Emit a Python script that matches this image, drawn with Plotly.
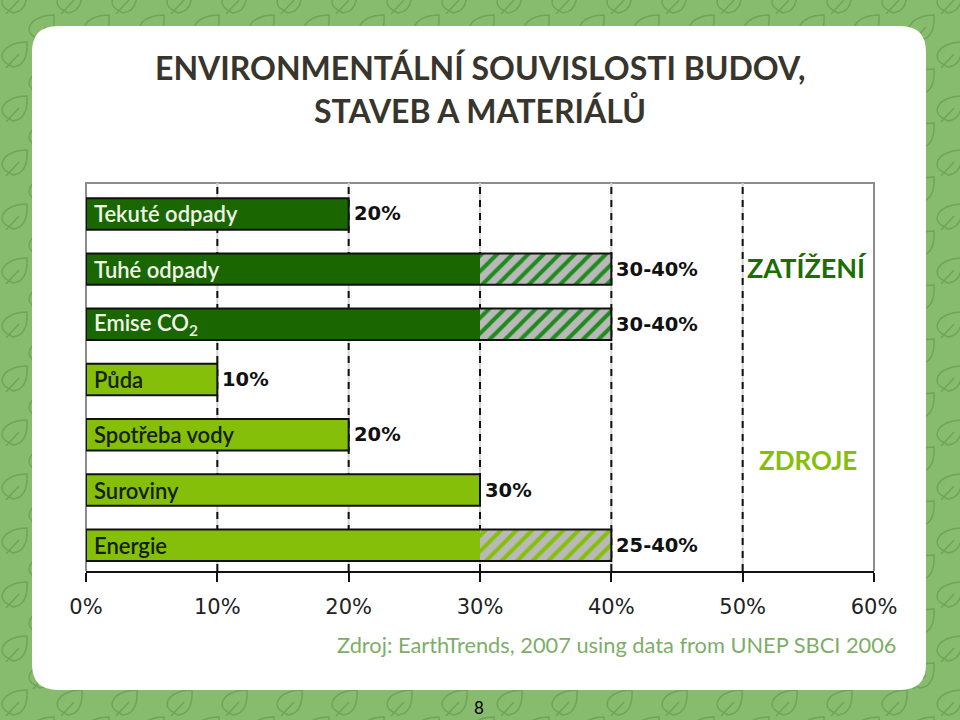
import plotly.graph_objects as go

categories = ["Tekuté odpady", "Tuhé odpady", "Emise CO<sub>2</sub>", "Půda", "Spotřeba vody", "Suroviny", "Energie"]
solid_values = [20, 30, 30, 10, 20, 30, 30]
upper_values = [20, 40, 40, 10, 20, 30, 40]
value_labels = ["20%", "30-40%", "30-40%", "10%", "20%", "30%", "25-40%"]
fill_colors = ["#1a6600"] * 3 + ["#86bf0a"] * 4
hatch_colors = ["#1f8a1f"] * 3 + ["#86bf0a"] * 4
label_colors = ["#eef5e8"] * 3 + ["#14210a"] * 4
tick_values = [0, 10, 20, 30, 40, 50, 60]
tick_labels = ["0%", "10%", "20%", "30%", "40%", "50%", "60%"]
positions = list(range(len(categories)))
W, H = 960, 720
PX0, PX1, PY0, PY1 = 86, 874, 183, 571
GREEN_BG, LEAF = "#87bc6e", "#70a459"


def px(x):
    return x / W


def py(y):
    return 1 - y / H


def P(x, y):
    return f"{px(x):.5f},{py(y):.5f}"


def leaf(cx, cy):
    return (
        f"M{P(cx+12,cy-13)} C{P(cx+2,cy-13)} {P(cx-12,cy-9)} {P(cx-13,cy+1)} "
        f"C{P(cx-13,cy+7)} {P(cx-7,cy+9)} {P(cx-2,cy+12)} "
        f"C{P(cx+7,cy+11)} {P(cx+13,cy+5)} {P(cx+12,cy-13)} Z "
        f"M{P(cx-9,cy+13)} L{P(cx+4,cy-1)} "
    )


leaf_path = ""
for j in range(-1, 15):
    for k in range(-1, 19):
        leaf_path += leaf(15 + 55 * k, 1 + 54 * j)
        leaf_path += leaf(42 + 55 * k, 28 + 54 * j)

r = 26
x0, x1, y0, y1 = 32, 926, 26, 690
card = (
    f"M{P(x0+r,y0)} L{P(x1-r,y0)} Q{P(x1,y0)} {P(x1,y0+r)} L{P(x1,y1-r)} Q{P(x1,y1)} {P(x1-r,y1)} "
    f"L{P(x0+r,y1)} Q{P(x0,y1)} {P(x0,y1-r)} L{P(x0,y0+r)} Q{P(x0,y0)} {P(x0+r,y0)} Z"
)

shapes = [
    dict(type="path", path=leaf_path, xref="paper", yref="paper", line=dict(color=LEAF, width=1.5), layer="below"),
    dict(type="path", path=card, xref="paper", yref="paper", fillcolor="white", line=dict(width=0), layer="below"),
    dict(type="path", xref="paper", yref="paper",
         path=f"M{P(PX0,PY1)} L{P(PX0,PY0)} L{P(PX1,PY0)} L{P(PX1,PY1)}",
         line=dict(color="#8c8c8c", width=2), layer="below"),
]
for t in tick_values[1:-1]:
    shapes.append(dict(type="line", xref="x", yref="paper", x0=t, x1=t, y0=py(PY1), y1=py(PY0),
                       line=dict(color="#d4d4d4", width=2), layer="below"))
    shapes.append(dict(type="line", xref="x", yref="paper", x0=t, x1=t, y0=py(PY1), y1=py(PY0),
                       line=dict(color="#111111", width=2, dash="7px,6px"), layer="below"))

fig = go.Figure()
fig.add_bar(y=positions, x=solid_values, orientation="h", marker=dict(color=fill_colors, line=dict(width=0)),
            width=0.57)
fig.add_bar(y=positions, x=[u - s for u, s in zip(upper_values, solid_values)], base=solid_values, orientation="h",
            width=0.57,
            marker=dict(color="#b9b9b9", line=dict(width=0),
                        pattern=dict(shape="/", bgcolor="#b9b9b9", fgcolor=hatch_colors, size=11, solidity=0.36,
                                     fillmode="replace")))
fig.add_bar(y=positions, x=upper_values, orientation="h", width=0.57,
            marker=dict(color="rgba(0,0,0,0)", line=dict(color="#111111", width=2)))

for pos, cat, col, up, val in zip(positions, categories, label_colors, upper_values, value_labels):
    fig.add_annotation(xref="x", yref="y", x=0, y=pos, text=cat, showarrow=False, xanchor="left", yanchor="middle",
                       xshift=6, font=dict(family="Lato", size=22, color=col, weight=600))
    fig.add_annotation(xref="x", yref="y", x=up, y=pos, text=val, showarrow=False, xanchor="left", yanchor="middle",
                       xshift=3, font=dict(family="DejaVu Sans", size=19.5, color="#111111", weight="bold"))


def note(x, y, text, size, color, bold=False, family="Lato", anchor="center"):
    fig.add_annotation(xref="paper", yref="paper", x=px(x), y=py(y), text=f"<b>{text}</b>" if bold else text,
                       showarrow=False, xanchor=anchor, yanchor="middle",
                       font=dict(family=family, size=size, color=color))


note(480, 67, "ENVIRONMENTÁLNÍ SOUVISLOSTI BUDOV,", 32, "#37352c", True)
note(480, 110, "STAVEB A MATERIÁLŮ", 32, "#37352c", True)
note(807, 267, "ZATÍŽENÍ", 27, "#1a6f00", True)
note(808, 460, "ZDROJE", 26, "#86bf0a", True)
note(617, 644, "Zdroj: EarthTrends, 2007 using data from UNEP SBCI 2006", 21.8, "#7dae68")
note(479, 707, "8", 17, "#000000")

fig.update_layout(
    width=W, height=H, margin=dict(l=0, r=0, t=0, b=0, autoexpand=False), barmode="overlay", showlegend=False,
    paper_bgcolor=GREEN_BG, plot_bgcolor="rgba(0,0,0,0)", shapes=shapes,
    xaxis=dict(domain=[px(PX0), px(PX1)], range=[0, 60], tickvals=tick_values, ticktext=tick_labels,
               ticks="outside", ticklen=9, tickwidth=2, tickcolor="#111111", linecolor="#111111", linewidth=2,
               showgrid=False, zeroline=False, showline=True, automargin=False, ticklabelstandoff=7,
               tickfont=dict(family="DejaVu Sans", size=21, color="#222222"), anchor="y"),
    yaxis=dict(domain=[py(PY1), py(PY0)], range=[6.467, -0.56], showticklabels=False, ticks="", showgrid=False,
               zeroline=False, showline=False, automargin=False),
)
fig.write_html("out.html", config=dict(displayModeBar=False), post_script="document.body.style.margin='0';")
